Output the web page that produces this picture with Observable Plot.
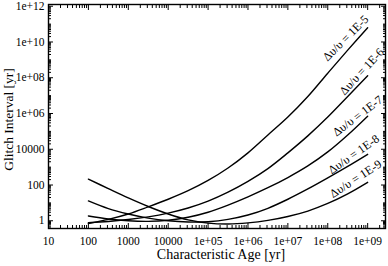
<!DOCTYPE html>
<html><head><meta charset="utf-8">
<script src="https://cdn.jsdelivr.net/npm/d3@7"></script>
<script src="https://cdn.jsdelivr.net/npm/@observablehq/plot@0.6"></script>
<style>body{margin:0;background:#fff} svg{display:block}</style>
</head><body><div id="chart"></div>
<script>
// Characteristic age sample points [yr]
const ages = [100, 316, 1000, 3162, 1e4, 31623, 1e5, 316228, 1e6, 3.162e6, 1e7, 3.162e7, 1e8, 3.162e8, 1e9];
const seriesNames = ["1E-5", "1E-6", "1E-7", "1E-8", "1E-9"];
// Glitch interval [yr] per series
const interval_1e5 = [0.71, 1.2, 2.4, 6.0, 16, 48, 180, 890, 6.3e3, 6.3e4, 6.3e5, 8.9e6, 1.8e8, 3.5e9, 6.3e10];
const interval_1e6 = [0.79, 0.91, 1.17, 1.66, 2.7, 5.2, 12.6, 40, 160, 830, 6.3e3, 5.6e4, 6.3e5, 8.9e6, 1.3e8];
const interval_1e7 = [1.86, 1.26, 1.0, 0.93, 1.07, 1.58, 3.0, 7.6, 22, 71, 263, 1.17e3, 7.1e3, 6.3e4, 7.1e5];
const interval_1e8 = [12.9, 4.8, 2.4, 1.41, 1.0, 0.85, 0.89, 1.2, 2.1, 5.0, 16, 60, 250, 1.1e3, 5.2e3];
const interval_1e9 = [214, 63, 19, 6.3, 2.4, 1.12, 0.74, 0.66, 0.76, 1.05, 1.74, 3.5, 9.3, 32, 141];
const intervals = [interval_1e5, interval_1e6, interval_1e7, interval_1e8, interval_1e9];

// Axis ticks and labels
const xTicks = [10, 100, 1000, 1e4, 1e5, 1e6, 1e7, 1e8, 1e9];
const xTickLabels = ["10", "100", "1000", "10000", "1e+05", "1e+06", "1e+07", "1e+08", "1e+09"];
const yTicks = [1, 100, 1e4, 1e6, 1e8, 1e10, 1e12];
const yTickLabels = ["1", "100", "10000", "1e+06", "1e+08", "1e+10", "1e+12"];

// Curve label styling
const labelIndex = 13;
const labelRotate = [-45, -47, -37, -35, -33];
const labelDx = [-2, 14, 10, 6, 8];
const labelDy = [-12, -25, -19, -12, -15];

const rows = seriesNames.flatMap((s, i) => ages.map((a, j) => ({series: s, age: a, interval: intervals[i][j]})));
const labelRows = seriesNames.map((s, i) => ({series: s, age: ages[labelIndex], interval: intervals[i][labelIndex], i}));

const xMinor = xTicks.flatMap(t => [2,3,4,5,6,7,8,9].map(k => k * t)).filter(v => v < 2.8e9);
const yMinor = [0.4,0.5,0.6,0.7,0.8,0.9].concat(yTicks.flatMap(t => [2,3,4,5,6,7,8,9,10,20,30,40,50,60,70,80,90].map(k => k * t))).filter(v => v < 1.25e12);

const xLab = new Map(xTicks.map((t, i) => [t, xTickLabels[i]]));
const yLab = new Map(yTicks.map((t, i) => [t, yTickLabels[i]]));

const font = "'Liberation Serif', 'Times New Roman', serif";

const chart = Plot.plot({
  width: 388, height: 266,
  marginLeft: 48, marginRight: 3, marginTop: 4, marginBottom: 38,
  x: {type: "log", domain: [10, 2.8e9]},
  y: {type: "log", domain: [0.37, 1.25e12]},
  style: {fontFamily: font, fontSize: "12px", color: "#000", background: "#fff"},
  marks: [
    // inward ticks, all four sides
    Plot.axisX(xTicks, {anchor: "bottom", tickSize: -5, fill: "none", label: null}),
    Plot.axisX(xTicks, {anchor: "top", tickSize: -5, fill: "none", label: null}),
    Plot.axisX(xMinor, {anchor: "bottom", tickSize: -3, fill: "none", label: null}),
    Plot.axisX(xMinor, {anchor: "top", tickSize: -3, fill: "none", label: null}),
    Plot.axisY(yTicks, {anchor: "left", tickSize: -5, fill: "none", label: null}),
    Plot.axisY(yTicks, {anchor: "right", tickSize: -5, fill: "none", label: null}),
    Plot.axisY(yMinor, {anchor: "left", tickSize: -3, fill: "none", label: null}),
    Plot.axisY(yMinor, {anchor: "right", tickSize: -3, fill: "none", label: null}),
    // tick labels
    Plot.axisX(xTicks, {anchor: "bottom", tickSize: 0, tickPadding: 8, tickFormat: d => xLab.get(d), label: null, fontSize: 11.5}),
    Plot.axisY(yTicks, {anchor: "left", tickSize: 0, tickPadding: 4, tickFormat: d => yLab.get(d), label: null, fontSize: 11.5}),
    // axis titles
    Plot.text(["Characteristic Age [yr]"], {frameAnchor: "bottom", dx: 4, dy: 21, lineAnchor: "top", textAnchor: "middle", text: d => d, fontSize: 14}),
    Plot.text(["Glitch Interval [yr]"], {frameAnchor: "left", dx: -40, dy: 3, rotate: -90, textAnchor: "middle", text: d => d, fontSize: 13.5}),
    Plot.frame({stroke: "#000", strokeWidth: 1.4}),
    // curves
    Plot.line(rows, {x: "age", y: "interval", z: "series", stroke: "#000", strokeWidth: 1.4, curve: "catmull-rom"}),
    // curve labels
    ...labelRows.map(r => Plot.text([r], {
      x: "age", y: "interval", text: d => `Δυ/υ = ${d.series}`,
      rotate: labelRotate[r.i], dx: labelDx[r.i], dy: labelDy[r.i], fontSize: 12
    }))
  ]
});
document.getElementById("chart").append(chart);
</script>
</body></html>
